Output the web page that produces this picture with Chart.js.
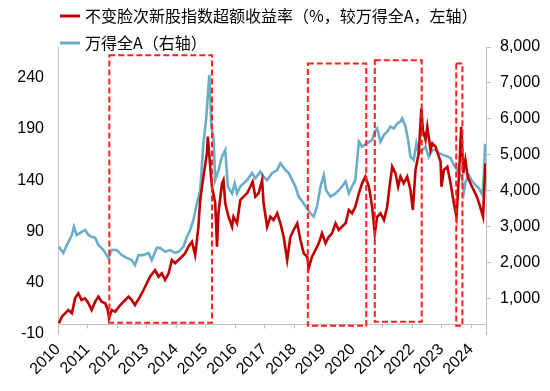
<!DOCTYPE html>
<html>
<head>
<meta charset="utf-8">
<script src="https://cdn.jsdelivr.net/npm/chart.js@4.4.0/dist/chart.umd.min.js"></script>
<style>
  html, body { margin: 0; padding: 0; background: #fff; }
</style>
</head>
<body>
<canvas id="chart" width="550" height="391"></canvas>
<script>
// year ticks on the x axis
const yearTicks = [2010, 2011, 2012, 2013, 2014, 2015, 2016, 2017, 2018, 2019, 2020, 2021, 2022, 2023, 2024];
const yearLabels = ["2010", "2011", "2012", "2013", "2014", "2015", "2016", "2017", "2018", "2019", "2020", "2021", "2022", "2023", "2024"];
const leftTicks = [-10, 40, 90, 140, 190, 240];
const rightTicks = [1000, 2000, 3000, 4000, 5000, 6000, 7000, 8000];

// 不变脸次新股指数超额收益率 (left axis)
const redDates = [2010.03, 2010.13, 2010.24, 2010.35, 2010.47, 2010.58, 2010.69, 2010.80, 2010.92, 2011.03,
  2011.14, 2011.26, 2011.37, 2011.48, 2011.60, 2011.69, 2011.73, 2011.82, 2011.94, 2012.11,
  2012.28, 2012.39, 2012.50, 2012.61, 2012.78, 2012.90, 2013.01, 2013.12, 2013.29, 2013.41,
  2013.52, 2013.63, 2013.75, 2013.86, 2013.97, 2014.08, 2014.20, 2014.31, 2014.42, 2014.54,
  2014.65, 2014.71, 2014.76, 2014.82, 2014.93, 2015.05, 2015.08, 2015.16, 2015.22, 2015.33,
  2015.39, 2015.44, 2015.56, 2015.61, 2015.67, 2015.78, 2015.90, 2015.95, 2016.07, 2016.18,
  2016.29, 2016.41, 2016.52, 2016.60, 2016.69, 2016.80, 2016.92, 2016.97, 2017.09, 2017.20,
  2017.31, 2017.43, 2017.54, 2017.65, 2017.77, 2017.88, 2017.99, 2018.11, 2018.22, 2018.33,
  2018.45, 2018.50, 2018.61, 2018.73, 2018.84, 2018.95, 2019.07, 2019.18, 2019.29, 2019.41,
  2019.52, 2019.63, 2019.75, 2019.86, 2019.97, 2020.08, 2020.20, 2020.31, 2020.42, 2020.54,
  2020.65, 2020.74, 2020.82, 2020.93, 2021.05, 2021.16, 2021.24, 2021.33, 2021.44, 2021.53,
  2021.61, 2021.72, 2021.84, 2021.95, 2022.03, 2022.12, 2022.23, 2022.32, 2022.37, 2022.46,
  2022.52, 2022.63, 2022.69, 2022.80, 2022.91, 2022.97, 2023.00, 2023.08, 2023.20, 2023.31,
  2023.42, 2023.51, 2023.59, 2023.67, 2023.74, 2023.81, 2023.89, 2023.98, 2024.09, 2024.20,
  2024.31, 2024.41, 2024.46, 2024.49, 2024.51];
const redValues = [0.4, 6.9, 10.2, 13.4, 10.2, 24.8, 29.7, 23.2, 24.8, 20.0,
  13.4, 21.5, 26.4, 21.5, 20.0, 13.4, 5.3, 13.4, 11.8, 18.3,
  23.2, 26.4, 23.2, 18.3, 26.4, 32.9, 39.5, 45.9, 52.4, 45.9,
  49.2, 42.7, 49.2, 62.2, 59.0, 62.2, 65.4, 68.7, 75.2, 80.0,
  67.1, 81.7, 94.7, 120.7, 143.5, 166.6, 182.5, 153.2, 133.7, 117.8,
  75.2, 108.0, 137.0, 140.2, 117.5, 104.4, 94.7, 104.4, 98.0, 120.7,
  124.0, 127.3, 133.7, 138.6, 124.0, 127.3, 140.2, 117.5, 94.7, 104.4,
  101.2, 107.8, 98.0, 84.9, 62.2, 84.9, 91.5, 98.0, 81.7, 68.7,
  65.4, 54.1, 65.4, 72.0, 78.5, 88.2, 78.5, 84.9, 88.2, 98.0,
  91.5, 94.7, 98.0, 111.0, 107.8, 114.2, 127.3, 137.0, 143.5, 133.7,
  114.2, 88.2, 104.4, 107.8, 101.2, 114.2, 133.7, 153.2, 146.8, 133.7,
  143.5, 137.0, 143.5, 130.5, 111.0, 150.0, 166.3, 210.2, 189.0, 179.3,
  192.2, 169.5, 176.0, 172.7, 163.0, 158.0, 133.7, 150.0, 153.2, 137.0,
  117.5, 104.4, 143.5, 192.2, 146.8, 159.8, 143.5, 137.0, 130.5, 124.0,
  114.2, 104.4, 137.0, 156.5, 145.0];

// 万得全A (right axis)
const blueDates = [2010.03, 2010.18, 2010.30, 2010.47, 2010.54, 2010.63, 2010.75, 2010.92, 2011.03, 2011.14,
  2011.26, 2011.37, 2011.54, 2011.71, 2011.82, 2011.99, 2012.16, 2012.33, 2012.50, 2012.61,
  2012.73, 2012.90, 2013.07, 2013.18, 2013.35, 2013.46, 2013.63, 2013.80, 2013.97, 2014.08,
  2014.25, 2014.37, 2014.48, 2014.59, 2014.71, 2014.82, 2014.93, 2015.02, 2015.13, 2015.20,
  2015.27, 2015.33, 2015.44, 2015.56, 2015.67, 2015.76, 2015.90, 2015.99, 2016.07, 2016.18,
  2016.29, 2016.41, 2016.58, 2016.69, 2016.86, 2016.97, 2017.09, 2017.26, 2017.43, 2017.54,
  2017.71, 2017.82, 2017.94, 2018.05, 2018.16, 2018.33, 2018.44, 2018.56, 2018.67, 2018.78,
  2018.90, 2019.01, 2019.09, 2019.24, 2019.41, 2019.52, 2019.63, 2019.75, 2019.86, 2019.97,
  2020.08, 2020.20, 2020.31, 2020.48, 2020.65, 2020.74, 2020.82, 2020.93, 2021.05, 2021.16,
  2021.27, 2021.39, 2021.50, 2021.61, 2021.67, 2021.78, 2021.87, 2021.95, 2022.06, 2022.15,
  2022.23, 2022.35, 2022.46, 2022.57, 2022.69, 2022.80, 2022.91, 2023.03, 2023.20, 2023.31,
  2023.42, 2023.54, 2023.62, 2023.68, 2023.76, 2023.82, 2023.93, 2024.05, 2024.16, 2024.27,
  2024.39, 2024.44, 2024.48, 2024.51];
const blueValues = [2430, 2260, 2480, 2760, 2990, 2760, 2820, 2900, 2760, 2710,
  2680, 2480, 2340, 2120, 2340, 2340, 2200, 2120, 2060, 1920,
  2200, 2200, 2260, 2060, 2400, 2400, 2290, 2340, 2260, 2290,
  2430, 2710, 2900, 3180, 3650, 4000, 5320, 5960, 7220, 5780,
  5500, 4290, 4570, 4940, 5130, 4110, 3920, 4200, 3920, 4110,
  4200, 4290, 4490, 4340, 4520, 4380, 4290, 4490, 4570, 4760,
  4570, 4490, 4290, 4110, 3830, 3640, 3500, 3360, 3270, 3550,
  4110, 4430, 4010, 3830, 3920, 4010, 4110, 4250, 3920, 4110,
  4290, 5360, 5220, 5320, 5410, 5640, 5730, 5360, 5550, 5640,
  5780, 5730, 5870, 5920, 6010, 5780, 5410, 4940, 4850, 5320,
  5040, 5130, 5220, 4940, 5130, 5130, 5040, 5000, 4950, 4900,
  4710, 4570, 4470, 4400, 3950, 4250, 4430, 4250, 4150, 4060,
  3880, 4480, 5300, 4950];

// red dashed boxes (x in years, y in left-axis units)
const boxFrom = [2011.74, 2018.47, 2020.74, 2023.50];
const boxTo = [2015.22, 2020.45, 2022.33, 2023.71];
const boxTop = [262, 254, 257, 254];
const boxBottom = [1, -2, 2, -2];

const axisGrey = "#bfbfbf";
const numFont = {family: "'Liberation Sans', Arial, sans-serif", size: 16};

const overlay = {
    id: "overlay",
    beforeDatasetsDraw(chart) {
        const {ctx, chartArea, scales: {x, y}} = chart;
        const y0 = Math.round(y.getPixelForValue(0)) + 0.5;
        ctx.save();
        ctx.strokeStyle = axisGrey;
        ctx.lineWidth = 1;
        ctx.beginPath();
        ctx.moveTo(chartArea.left, y0);
        ctx.lineTo(chartArea.right, y0);
        yearTicks.forEach(v => {
            const px = Math.round(x.getPixelForValue(v)) + 0.5;
            ctx.moveTo(px, y0);
            ctx.lineTo(px, y0 + 4);
        });
        ctx.stroke();
        ctx.restore();
    },
    afterDatasetsDraw(chart) {
        const {ctx, scales: {x, y}} = chart;
        ctx.save();
        ctx.strokeStyle = "#ff1f1f";
        ctx.lineWidth = 2;
        ctx.setLineDash([6, 3]);
        boxFrom.forEach((from, i) => {
            const l = x.getPixelForValue(from), r = x.getPixelForValue(boxTo[i]);
            const t = y.getPixelForValue(boxTop[i]), b = y.getPixelForValue(boxBottom[i]);
            ctx.strokeRect(l, t, r - l, b - t);
        });
        ctx.restore();
    },
    afterDraw(chart) {
        // two-row legend, top left
        const ctx = chart.ctx;
        const rows = [16, 43];
        ctx.save();
        chart.data.datasets.forEach((ds, i) => {
            ctx.strokeStyle = ds.borderColor;
            ctx.lineWidth = 3;
            ctx.beginPath();
            ctx.moveTo(60, rows[i]);
            ctx.lineTo(80, rows[i]);
            ctx.stroke();
            ctx.fillStyle = "#000";
            ctx.font = "16px 'Noto Sans CJK SC', sans-serif";
            ctx.textBaseline = "middle";
            ctx.fillText(ds.label, 85, rows[i]);
        });
        ctx.restore();
    }
};

window.onload = ()=> {
    new Chart("chart", {
        type: "line",
        data: {
            datasets: [{
                label: "不变脸次新股指数超额收益率（%，较万得全A，左轴）",
                data: redDates.map((d, i) => ({x: d, y: redValues[i]})),
                borderColor: "#c00000",
                borderWidth: 2.6,
                pointRadius: 0,
                tension: 0,
                yAxisID: "y"
            }, {
                label: "万得全A（右轴）",
                data: blueDates.map((d, i) => ({x: d, y: blueValues[i]})),
                borderColor: "#6aadc8",
                borderWidth: 2.6,
                pointRadius: 0,
                tension: 0,
                yAxisID: "y1"
            }]
        },
        options: {
            responsive: false,
            animation: false,
            devicePixelRatio: 1,
            layout: {padding: {top: 47, left: 0, right: 0, bottom: 0}},
            plugins: {legend: {display: false}, tooltip: {enabled: false}},
            scales: {
                x: {
                    type: "linear",
                    min: 2010,
                    max: 2024.51,
                    afterBuildTicks: (axis) => { axis.ticks = yearTicks.map(v => ({value: v})); },
                    afterFit: (axis) => { axis.height = 57; },
                    grid: {display: false, drawTicks: false},
                    border: {display: false},
                    ticks: {
                        autoSkip: false,
                        minRotation: 45,
                        maxRotation: 45,
                        padding: 6,
                        color: "#000",
                        font: numFont,
                        callback: (v, i) => yearLabels[i]
                    }
                },
                y: {
                    position: "left",
                    min: -10,
                    max: 270,
                    afterBuildTicks: (axis) => { axis.ticks = leftTicks.map(v => ({value: v})); },
                    afterFit: (axis) => { axis.width = 58; },
                    grid: {drawOnChartArea: false, drawTicks: false},
                    border: {color: axisGrey},
                    ticks: {padding: 14, color: "#000", font: numFont}
                },
                y1: {
                    position: "right",
                    min: 0,
                    max: 8000,
                    afterBuildTicks: (axis) => { axis.ticks = rightTicks.map(v => ({value: v})); },
                    afterFit: (axis) => { axis.width = 64; },
                    grid: {drawOnChartArea: false, tickLength: 5, color: axisGrey},
                    border: {color: axisGrey},
                    ticks: {
                        padding: 9,
                        color: "#000",
                        font: numFont,
                        callback: (v) => v.toLocaleString("en-US")
                    }
                }
            }
        },
        plugins: [overlay]
    });
};
</script>
</body>
</html>
